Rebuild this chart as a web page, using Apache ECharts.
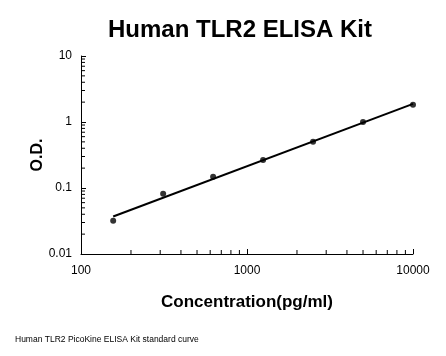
<!DOCTYPE html>
<html><head><meta charset="utf-8">
<script src="https://cdn.jsdelivr.net/npm/echarts@6/dist/echarts.min.js"></script>
<style>html,body{margin:0;padding:0;background:#fff}#c{width:446px;height:356px}</style>
</head><body><div id="c"></div>
<script>
const concentrations = [156.25, 312.5, 625, 1250, 2500, 5000, 10000];
const odValues = [0.032, 0.082, 0.148, 0.265, 0.5, 1.0, 1.82];
const trendX = [156.25, 10000];
const trendY = [0.037, 1.88];
const xMinorTicks = [200,300,400,500,600,700,800,900,2000,3000,4000,5000,6000,7000,8000,9000];
const yMinorTicks = [0.02,0.03,0.04,0.05,0.06,0.07,0.08,0.09,0.2,0.3,0.4,0.5,0.6,0.7,0.8,0.9,2,3,4,5,6,7,8,9];
const titleText = 'Human TLR2 ELISA Kit';
const footText = 'Human TLR2 PicoKine ELISA Kit standard curve';

const font = '"Liberation Sans", Arial, sans-serif';
const chart = echarts.init(document.getElementById('c'));
chart.setOption({
  animation: false,
  backgroundColor: '#fff',
  title: [
    {text: titleText, left: 240, top: 18, textAlign: 'center', padding: 0,
     textStyle: {fontFamily: font, fontSize: 24, fontWeight: 'bold', color: '#000'}},
    {text: footText, left: 15, top: 335, padding: 0,
     textStyle: {fontFamily: font, fontSize: 8.5, fontWeight: 'normal', color: '#000'}}
  ],
  grid: {left: 81, right: 33, top: 56, bottom: 102, containLabel: false},
  xAxis: {
    type: 'log', logBase: 10, min: 100, max: 10000,
    name: 'Concentration(pg/ml)', nameLocation: 'middle', nameGap: 40,
    nameMoveOverlap: false,
    nameTextStyle: {fontFamily: font, fontSize: 17, fontWeight: 'bold', color: '#000'},
    axisLine: {lineStyle: {color: '#000', width: 1}},
    axisTick: {inside: true, length: 5, lineStyle: {color: '#000'}},
    axisLabel: {fontFamily: font, fontSize: 12, color: '#000', margin: 11,
      formatter: v => String(v)},
    splitLine: {show: false}
  },
  yAxis: {
    type: 'log', logBase: 10, min: 0.01, max: 10,
    name: 'O.D.', nameLocation: 'middle', nameGap: 35, nameRotate: 90,
    nameMoveOverlap: false,
    nameTextStyle: {fontFamily: font, fontSize: 16, fontWeight: 'bold', color: '#000'},
    axisLine: {show: true, lineStyle: {color: '#000', width: 1}},
    axisTick: {show: true, inside: true, length: 5, lineStyle: {color: '#000'}},
    axisLabel: {fontFamily: font, fontSize: 12, color: '#000', margin: 9,
      formatter: v => String(v)},
    splitLine: {show: false}
  },
  series: [
    {type: 'line', data: trendX.map((x, i) => [x, trendY[i]]), symbol: 'none',
     lineStyle: {color: '#000', width: 2}, z: 3},
    {type: 'scatter', data: concentrations.map((x, i) => [x, odValues[i]]),
     symbol: 'circle', symbolSize: 6, itemStyle: {color: '#000'}, z: 4},
    {type: 'custom', data: xMinorTicks.map(v => [v, 0.01]), clip: false,
     renderItem: (p, api) => {
       const pt = api.coord([api.value(0), api.value(1)]);
       return {type: 'line', shape: {x1: pt[0], y1: pt[1], x2: pt[0], y2: pt[1] - 4},
               style: {stroke: '#000', lineWidth: 1}};
     }},
    {type: 'custom', data: yMinorTicks.map(v => [100, v]), clip: false,
     renderItem: (p, api) => {
       const pt = api.coord([api.value(0), api.value(1)]);
       return {type: 'line', shape: {x1: pt[0], y1: pt[1], x2: pt[0] + 4, y2: pt[1]},
               style: {stroke: '#000', lineWidth: 1}};
     }}
  ]
});
</script></body></html>
